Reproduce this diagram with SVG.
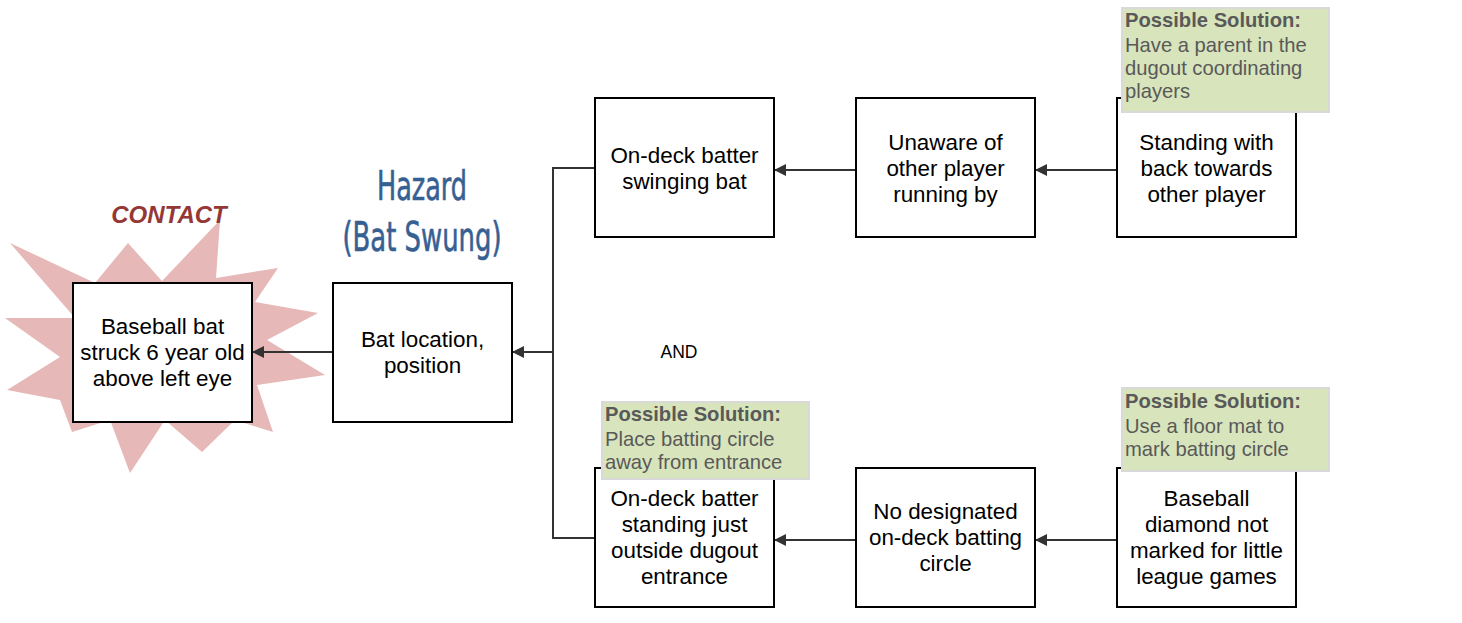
<svg xmlns="http://www.w3.org/2000/svg" width="1462" height="623" viewBox="0 0 1462 623">
<style>
.box{fill:#fff;stroke:#000;stroke-width:2}
.t{font-family:"Liberation Sans",Arial,sans-serif;font-size:22.4px;fill:#000;text-anchor:middle}
.note{fill:#d8e4bc;stroke:#d9d9d9;stroke-width:2}
.nt{font-family:"Liberation Sans",Arial,sans-serif;font-size:20.2px;fill:#595959}
.nb{font-weight:bold}
.ln{fill:none;stroke:#333;stroke-width:2}
.hz{font-family:"DejaVu Sans Condensed","Liberation Sans",sans-serif;font-size:40px;fill:#376092;stroke:#376092;stroke-width:0.6;text-anchor:middle}
</style>
<defs>
<marker id="ah" markerWidth="12" markerHeight="12" refX="11" refY="6" orient="auto" markerUnits="userSpaceOnUse">
<path d="M0,0 L12,6 L0,12 Z" fill="#333"/>
</marker>
</defs>
<rect width="1462" height="623" fill="#fff"/>
<g id="burst">
<polygon fill="#e6b8b7" points="128,243 162,281 220,220 216,278 278,268 255,302 318,313 267,340 325,375 257,385 273,432 235,420 202,452 165,420 130,473 110,420 72,432 60,400 7,390 60,357 5,318 75,318 10,243 95,283"/>
<text x="169" y="223" font-family="Liberation Sans,Arial,sans-serif" font-size="24" font-weight="bold" font-style="italic" fill="#953735" text-anchor="middle">CONTACT</text>
</g>
<g id="hazard">
<text class="hz" x="422" y="200" textLength="90" lengthAdjust="spacingAndGlyphs">Hazard</text>
<text class="hz" x="422" y="251" textLength="159" lengthAdjust="spacingAndGlyphs">(Bat Swung)</text>
</g>
<g id="connectors">
<line class="ln" x1="333" y1="352" x2="253" y2="352" marker-end="url(#ah)"/>
<polyline class="ln" points="595,168 553,168 553,538 595,538"/>
<line class="ln" x1="553" y1="352" x2="513" y2="352" marker-end="url(#ah)"/>
<line class="ln" x1="856" y1="170" x2="775" y2="170" marker-end="url(#ah)"/>
<line class="ln" x1="1117" y1="170" x2="1036" y2="170" marker-end="url(#ah)"/>
<line class="ln" x1="856" y1="540" x2="775" y2="540" marker-end="url(#ah)"/>
<line class="ln" x1="1117" y1="540" x2="1036" y2="540" marker-end="url(#ah)"/>
</g>
<g id="nodeA">
<rect class="box" x="73" y="283" width="179" height="139"/>
<text class="t" x="162.5" y="334">Baseball bat</text>
<text class="t" x="162.5" y="360">struck 6 year old</text>
<text class="t" x="162.5" y="386">above left eye</text>
</g>
<g id="nodeB">
<rect class="box" x="333" y="283" width="179" height="139"/>
<text class="t" x="422.5" y="347">Bat location,</text>
<text class="t" x="422.5" y="373">position</text>
</g>
<g id="nodeC">
<rect class="box" x="595" y="98" width="179" height="139"/>
<text class="t" x="684.5" y="163">On-deck batter</text>
<text class="t" x="684.5" y="189">swinging bat</text>
</g>
<g id="nodeD">
<rect class="box" x="856" y="98" width="179" height="139"/>
<text class="t" x="945.5" y="150">Unaware of</text>
<text class="t" x="945.5" y="176">other player</text>
<text class="t" x="945.5" y="202">running by</text>
</g>
<g id="nodeE">
<rect class="box" x="1117" y="98" width="179" height="139"/>
<text class="t" x="1206.5" y="150">Standing with</text>
<text class="t" x="1206.5" y="176">back towards</text>
<text class="t" x="1206.5" y="202">other player</text>
</g>
<g id="nodeF">
<rect class="box" x="595" y="468" width="179" height="139"/>
<text class="t" x="684.5" y="506">On-deck batter</text>
<text class="t" x="684.5" y="532">standing just</text>
<text class="t" x="684.5" y="558">outside dugout</text>
<text class="t" x="684.5" y="584">entrance</text>
</g>
<g id="nodeG">
<rect class="box" x="856" y="468" width="179" height="139"/>
<text class="t" x="945.5" y="519">No designated</text>
<text class="t" x="945.5" y="545">on-deck batting</text>
<text class="t" x="945.5" y="571">circle</text>
</g>
<g id="nodeH">
<rect class="box" x="1117" y="468" width="179" height="139"/>
<text class="t" x="1206.5" y="506">Baseball</text>
<text class="t" x="1206.5" y="532">diamond not</text>
<text class="t" x="1206.5" y="558">marked for little</text>
<text class="t" x="1206.5" y="584">league games</text>
</g>
<g id="and">
<text x="679" y="358" font-family="Liberation Sans,Arial,sans-serif" font-size="17.5" fill="#000" text-anchor="middle">AND</text>
</g>
<g id="note1">
<rect class="note" x="1122" y="8" width="207" height="104"/>
<text class="nt nb" x="1125" y="27">Possible Solution:</text>
<text class="nt" x="1125" y="52">Have a parent in the</text>
<text class="nt" x="1125" y="75">dugout coordinating</text>
<text class="nt" x="1125" y="98">players</text>
</g>
<g id="note2">
<rect class="note" x="602" y="402" width="207" height="77"/>
<text class="nt nb" x="605" y="421">Possible Solution:</text>
<text class="nt" x="605" y="446">Place batting circle</text>
<text class="nt" x="605" y="469">away from entrance</text>
</g>
<g id="note3">
<rect class="note" x="1122" y="388" width="207" height="83"/>
<text class="nt nb" x="1125" y="408">Possible Solution:</text>
<text class="nt" x="1125" y="433">Use a floor mat to</text>
<text class="nt" x="1125" y="456">mark batting circle</text>
</g>
</svg>
